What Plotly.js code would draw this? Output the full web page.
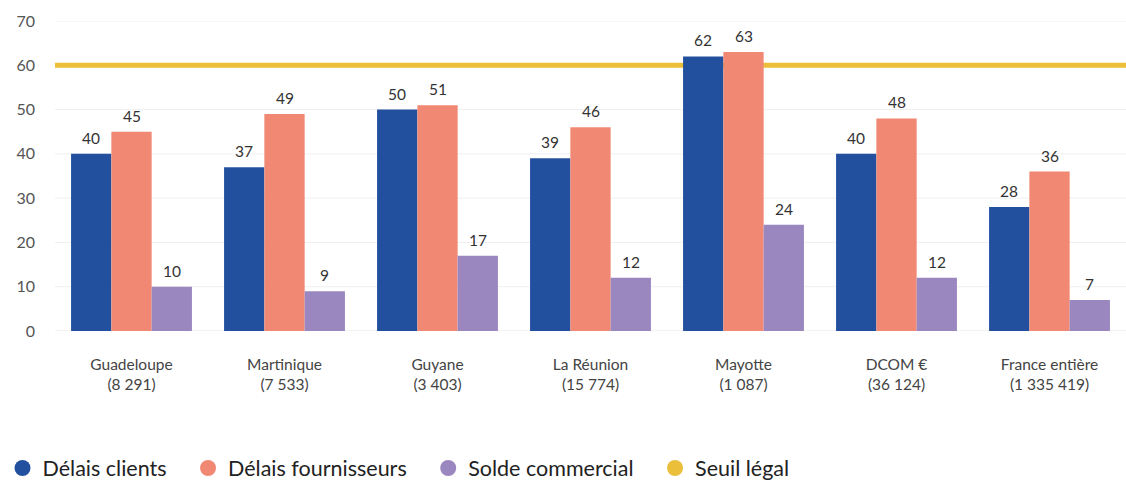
<!DOCTYPE html>
<html>
<head>
<meta charset="utf-8">
<script src="https://cdn.plot.ly/plotly-3.0.1.min.js"></script>
<style>html,body{margin:0;padding:0;background:#fff;}#chart{width:1126px;height:481px;}</style>
</head>
<body>
<div id="chart"></div>
<script>
const categories = ["Guadeloupe<br>(8 291)", "Martinique<br>(7 533)", "Guyane<br>(3 403)", "La Réunion<br>(15 774)", "Mayotte<br>(1 087)", "DCOM €<br>(36 124)", "France entière<br>(1 335 419)"];
const delaisClients = [40, 37, 50, 39, 62, 40, 28];
const delaisFournisseurs = [45, 49, 51, 46, 63, 48, 36];
const soldeCommercial = [10, 9, 17, 12, 24, 12, 7];
const seuilLegal = 60;
const yTicks = [0, 10, 20, 30, 40, 50, 60, 70];
const seriesNames = ["Délais clients", "Délais fournisseurs", "Solde commercial", "Seuil légal"];
const colors = ["#22509E", "#F08874", "#9B87C0", "#EBBF3A"];

const FONT = "Lato, 'Noto Sans', sans-serif";
const seriesData = [delaisClients, delaisFournisseurs, soldeCommercial];

const traces = seriesData.map((vals, i) => ({
  type: "bar",
  x: categories,
  y: vals,
  name: seriesNames[i],
  marker: {color: colors[i]},
  showlegend: false,
  hoverinfo: "x+y"
}));

seriesNames.forEach((n, i) => {
  traces.push({
    type: "scatter",
    mode: "markers",
    x: [null],
    y: [null],
    name: n + (i < 3 ? "\u00a0\u00a0\u00a0" : ""),
    marker: {color: colors[i], size: 20, symbol: "circle"},
    showlegend: true
  });
});

// data labels above the bars, positioned from the data through the axes
const bargap = 0.21;
const groupW = 1 - bargap;
const annotations = [];
seriesData.forEach((vals, s) => {
  const shift = (s - 1) * groupW / 3;
  vals.forEach((v, k) => {
    annotations.push({
      xref: "x", yref: "y",
      x: k + shift, y: v,
      text: String(v),
      showarrow: false,
      yanchor: "middle",
      yshift: 16,
      font: {family: FONT, size: 15.5, color: "#333"}
    });
  });
});

// light horizontal gridlines at the y ticks (hidden under the threshold line)
const shapes = yTicks.filter(v => v !== seuilLegal).map(v => ({
  type: "line",
  xref: "paper", yref: "y",
  x0: 0, x1: 1, y0: v, y1: v,
  layer: "below",
  line: {color: v === 0 ? "#E6E6E6" : "#EFEFEF", width: 1}
}));
shapes.push({
  type: "line",
  xref: "paper", yref: "y",
  x0: 0, x1: 1, y0: seuilLegal, y1: seuilLegal,
  layer: "between",
  line: {color: colors[3], width: 5}
});

const layout = {
  width: 1126,
  height: 481,
  margin: {l: 55, r: 0, t: 21, b: 150, autoexpand: false},
  paper_bgcolor: "#fff",
  plot_bgcolor: "#fff",
  font: {family: FONT, color: "#444"},
  barmode: "group",
  bargap: bargap,
  bargroupgap: 0,
  xaxis: {
    type: "category",
    tickfont: {family: FONT, size: 15.5, color: "#444"},
    ticks: "",
    showline: false,
    showgrid: false,
    ticklabelstandoff: 22,
    automargin: false
  },
  yaxis: {
    range: [0, 70],
    tickvals: yTicks,
    tickfont: {family: FONT, size: 16, color: "#555"},
    showgrid: false,
    zeroline: false,
    showline: false,
    ticklabelstandoff: 19,
    automargin: false
  },
  annotations: annotations,
  shapes: shapes,
  legend: {
    orientation: "h",
    x: -0.049,
    xanchor: "left",
    y: -0.442,
    yanchor: "middle",
    font: {family: FONT, size: 21.5, color: "#222"},
    itemwidth: 30,
    traceorder: "normal"
  }
};

Plotly.newPlot("chart", traces, layout, {displayModeBar: false, staticPlot: true});
</script>
</body>
</html>
